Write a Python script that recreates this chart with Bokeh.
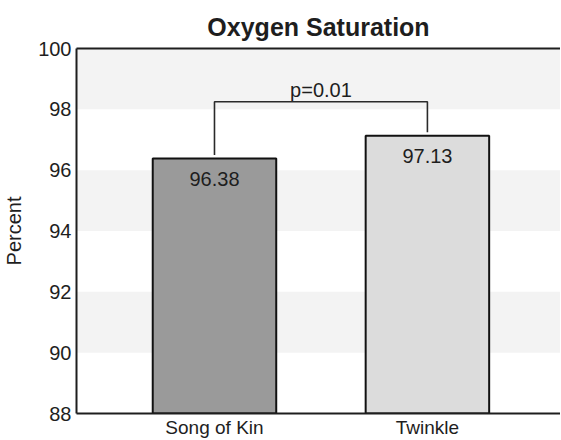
from bokeh.plotting import figure
from bokeh.models import Range1d, FixedTicker, ColumnDataSource, Title, LinearAxis
from bokeh.core.properties import value
from bokeh.embed import file_html
from bokeh.resources import INLINE
import numpy as np

# data
categories = ["Song of Kin", "Twinkle"]
values = [96.38, 97.13]
bar_colors = ["#9a9a9a", "#dcdcdc"]
value_labels = ["96.38", "97.13"]
y_ticks = [88, 90, 92, 94, 96, 98, 100]
p_label = "p=0.01"
bracket_level = 98.25
bracket_gap = 0.12

FONT = "Liberation Sans"
TXT = "#1e1e1e"

x_pos = np.arange(len(categories)) + 0.5

p = figure(frame_width=484, frame_height=365,
           x_range=Range1d(-0.148, 2.125), y_range=Range1d(88, 100),
           output_backend="svg", toolbar_location=None,
           min_border_left=69, min_border_right=0, min_border_top=48, min_border_bottom=3)

p.title = Title(text="Oxygen Saturation", align="center", text_font=FONT,
                text_font_size="25px", text_font_style="bold", text_color=TXT, standoff=15)

p.background_fill_color = "white"
p.border_fill_color = "white"
p.outline_line_color = None

# grid bands
p.xgrid.grid_line_color = None
p.ygrid.grid_line_color = None
p.ygrid.ticker = FixedTicker(ticks=y_ticks)
p.ygrid.band_fill_color = "#f3f3f3"
p.ygrid.band_fill_alpha = 1.0

src = ColumnDataSource(dict(x=x_pos, top=values, color=bar_colors, lab=value_labels))
p.vbar(x="x", top="top", bottom=88, width=0.58, fill_color="color",
       line_color="#111111", line_width=2, source=src)

p.text(x="x", y="top", text="lab", source=src, text_align="center",
       text_baseline="middle", y_offset=20, text_font=value(FONT),
       text_font_size="20px", text_color=TXT)

# significance bracket
bx = [x_pos[0], x_pos[0], x_pos[1], x_pos[1]]
by = [values[0] + bracket_gap, bracket_level, bracket_level, values[1] + bracket_gap]
p.line(bx, by, line_color="#2a2a2a", line_width=1.6)
p.text(x=[(x_pos[0] + x_pos[1]) / 2], y=[bracket_level], text=[p_label],
       text_align="center", text_baseline="bottom", y_offset=-1,
       text_font=value(FONT), text_font_size="20px", text_color=TXT)

# bottom axis
xb = p.below[0]
xb.ticker = FixedTicker(ticks=list(x_pos))
xb.major_label_overrides = {float(x): c for x, c in zip(x_pos, categories)}
xb.major_tick_out = 0
xb.major_tick_in = 0
xb.minor_tick_out = 0
xb.minor_tick_in = 0
xb.major_label_standoff = 3
xb.major_label_text_font = FONT
xb.major_label_text_font_size = "19px"
xb.major_label_text_color = TXT
xb.axis_line_width = 2
xb.axis_line_color = "#1e1e1e"

# left axis
yl = p.left[0]
yl.ticker = FixedTicker(ticks=y_ticks)
yl.major_tick_out = 0
yl.major_tick_in = 0
yl.minor_tick_out = 0
yl.minor_tick_in = 0
yl.major_label_standoff = 5
yl.major_label_text_font = FONT
yl.major_label_text_font_size = "20px"
yl.major_label_text_color = TXT
yl.axis_line_width = 2
yl.axis_line_color = "#1e1e1e"
yl.axis_label = "Percent"
yl.axis_label_text_font = FONT
yl.axis_label_text_font_size = "20px"
yl.axis_label_text_font_style = "normal"
yl.axis_label_text_color = TXT
yl.axis_label_standoff = 10

# top frame line (no right border visible in the reference)
top_axis = LinearAxis(ticker=FixedTicker(ticks=[]), major_label_text_font_size="0px",
                      major_label_standoff=0,
                      major_tick_out=0, major_tick_in=0, minor_tick_out=0, minor_tick_in=0,
                      axis_line_width=2, axis_line_color="#1e1e1e")
p.add_layout(top_axis, "above")

open("out.html", "w").write(file_html(p, INLINE))
